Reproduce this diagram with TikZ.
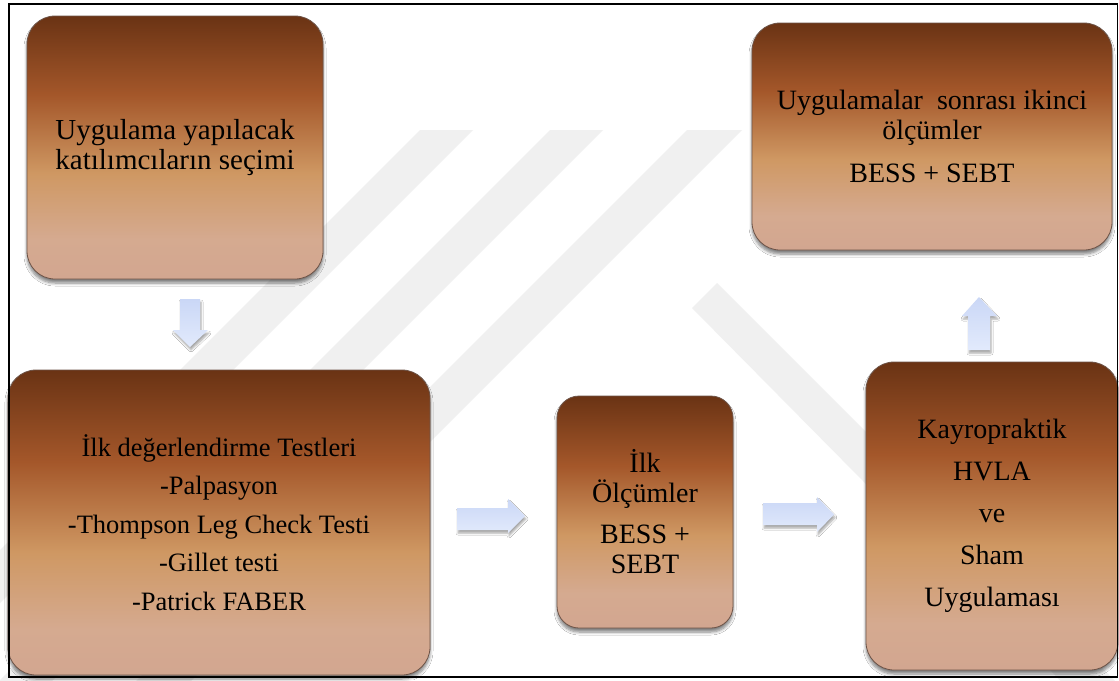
\documentclass[tikz,border=0pt]{standalone}
\usepackage{fontspec}
\setmainfont{Liberation Serif}
\usetikzlibrary{shadows.blur}
\definecolor{btop}{HTML}{6A3314}
\definecolor{bm}{HTML}{A4572A}
\definecolor{bh}{HTML}{CF9863}
\definecolor{bq}{HTML}{D5AA90}
\definecolor{bbot}{HTML}{D2A690}
\definecolor{boxedge}{HTML}{6E5448}
\definecolor{arrtop}{HTML}{CAD7F6}
\definecolor{arrbot}{HTML}{E2EAFC}
\definecolor{wmcol}{HTML}{F0F0F0}
\pgfdeclareverticalshading{brownsh}{100bp}{color(0bp)=(bbot); color(25bp)=(bbot); color(32.5bp)=(bq); color(45bp)=(bh); color(60bp)=(bm); color(75bp)=(btop); color(100bp)=(btop)}
\tikzset{
  box/.style={rectangle, rounded corners=28pt, shading=brownsh, draw=boxedge, line width=0.8pt,
    align=center, font=\fontsize{28}{30}\selectfont, inner sep=0pt,
    blur shadow={shadow xshift=0pt, shadow yshift=-4pt, shadow blur steps=6, shadow opacity=50, shadow blur radius=3pt}},
  barrow/.style={top color=arrtop, bottom color=arrbot, draw=none,
    blur shadow={shadow xshift=1pt, shadow yshift=-3pt, shadow blur steps=5, shadow opacity=35, shadow blur radius=2pt}},
  wm/.style={fill=wmcol, draw=none}
}
\begin{document}
\begin{tikzpicture}[x=1pt,y=-1pt]
\useasboundingbox (0,0) rectangle (1119,680);
\fill[white] (0,0) rectangle (1119,680);
% watermark
\begin{scope}
\clip (0,0) rectangle (1119,680);
\fill[wm] (420,130) -- (473,130) -- (0,603) -- (0,550) -- cycle;
\fill[wm] (550,130) -- (603,130) -- (0,733) -- (0,680) -- cycle;
\fill[wm] (687,130) -- (742,130) -- (0,872) -- (0,817) -- cycle;
\fill[wm] (717,283) -- (1119,685) -- (1119,740) -- (692,308) -- cycle;
\end{scope}
% boxes
\node[box, minimum width=296pt, minimum height=263pt, font=\fontsize{29}{30}\selectfont] (sel) at (175,147.5)
  {Uygulama yapılacak\\katılımcıların seçimi};
\node[box, minimum width=422pt, minimum height=305pt, font=\fontsize{26.5}{38.5}\selectfont] (ilk) at (219,522.5)
  {İlk değerlendirme Testleri\\-Palpasyon\\-Thompson Leg Check Testi\\-Gillet testi\\-Patrick FABER};
\node[box, rounded corners=22pt, minimum width=176pt, minimum height=232pt] (olc) at (645,512)
  {İlk\\Ölçümler\\[11pt]BESS +\\SEBT};
\node[box, minimum width=252pt, minimum height=308pt, font=\fontsize{28}{42}\selectfont] (kay) at (992,516)
  {Kayropraktik\\HVLA\\ve\\Sham\\Uygulaması};
\node[box, minimum width=360pt, minimum height=227pt] (son) at (932,136.5)
  {Uygulamalar \ sonrası ikinci\\ölçümler\\[13pt]BESS + SEBT};
% block arrows
\path[barrow] (180,299) -- (200,299) -- (200,330) -- (208,330) -- (190,347) -- (173,330) -- (180,330) -- cycle;
\path[barrow] (457,508) -- (508,508) -- (508,499) -- (525,516) -- (508,533) -- (508,530) -- (457,530) -- cycle;
\path[barrow] (763,503) -- (817,503) -- (817,497) -- (834,514.5) -- (817,532) -- (817,525) -- (763,525) -- cycle;
\path[barrow] (968,350) -- (968,316) -- (962,316) -- (979,297) -- (997,316) -- (990,316) -- (990,350) -- cycle;
% frame
\draw[line width=1.6pt] (9,4) rectangle (1117.5,677);
\end{tikzpicture}
\end{document}
